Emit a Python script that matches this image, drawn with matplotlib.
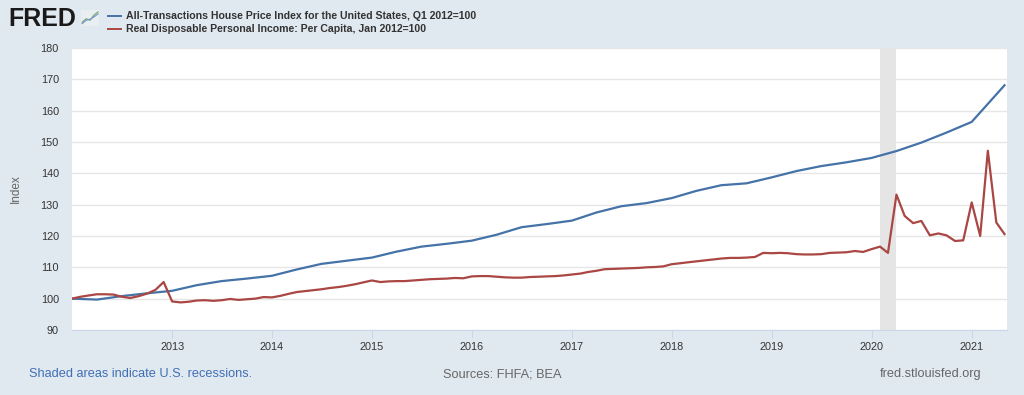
import numpy as np
import pandas as pd
import matplotlib
matplotlib.use("Agg")
import matplotlib.pyplot as plt
import matplotlib.dates as mdates

plt.rcParams['font.family'] = ['Liberation Sans', 'DejaVu Sans']

# ---- data ----
hpi_dates = list(pd.date_range("2012-01-01", "2021-01-01", freq="QS")) + [pd.Timestamp("2021-05-01")]
hpi = [100.0, 99.7, 100.8, 101.7,
       102.5, 104.3, 105.6, 106.4,
       107.3, 109.3, 111.1, 112.1,
       113.1, 115.0, 116.6, 117.5,
       118.5, 120.4, 122.8, 123.8,
       124.9, 127.5, 129.5, 130.5,
       132.1, 134.4, 136.2, 136.8,
       138.7, 140.7, 142.3, 143.5,
       144.9, 147.1, 149.8, 153.0,
       156.4, 168.1]

inc_dates = pd.date_range("2012-01-01", "2021-05-01", freq="MS")
income = [100.0, 100.6, 101.0, 101.4, 101.4, 101.3, 100.6, 100.2, 100.8, 101.6, 102.8, 105.3,
          99.1, 98.8, 99.0, 99.4, 99.5, 99.3, 99.5, 99.9, 99.6, 99.8, 100.0, 100.5,
          100.4, 100.9, 101.5, 102.1, 102.4, 102.7, 103.0, 103.4, 103.7, 104.1, 104.6, 105.2,
          105.8, 105.3, 105.5, 105.6, 105.6, 105.8, 106.0, 106.2, 106.3, 106.4, 106.6, 106.5,
          107.1, 107.2, 107.2, 107.0, 106.8, 106.7, 106.7, 106.9, 107.0, 107.1, 107.2, 107.4,
          107.7, 108.0, 108.5, 108.9, 109.4, 109.5, 109.6, 109.7, 109.8, 110.0, 110.1, 110.3,
          111.0, 111.3, 111.6, 111.9, 112.2, 112.5, 112.8, 113.0, 113.0, 113.1, 113.3, 114.6,
          114.5, 114.6, 114.5, 114.2, 114.1, 114.1, 114.2, 114.6, 114.7, 114.8, 115.2, 114.9,
          115.8, 116.6, 114.6, 133.2, 126.4, 124.1, 124.8, 120.2, 120.8, 120.2, 118.4, 118.6,
          130.7, 120.0, 147.2, 124.3, 120.6]

recession = ("2020-02-01", "2020-04-01")
year_ticks = [pd.Timestamp(f"{y}-01-01") for y in range(2013, 2022)]
y_ticks = list(range(90, 181, 10))

hpi_label = "All-Transactions House Price Index for the United States, Q1 2012=100"
inc_label = "Real Disposable Personal Income: Per Capita, Jan 2012=100"

# ---- figure ----
bg = "#e1e9f0"
fig = plt.figure(figsize=(10.24, 3.95), dpi=100, facecolor=bg)
ax = fig.add_axes([0.0703, 0.1646, 0.9131, 0.7140])
ax.set_facecolor("white")

ax.axvspan(pd.Timestamp(recession[0]), pd.Timestamp(recession[1]), color="#e5e5e5", lw=0, zorder=1)
ax.plot(hpi_dates, hpi, color="#4572a7", lw=1.6, zorder=3)
ax.plot(inc_dates, income, color="#aa4643", lw=1.6, zorder=3)

ax.set_xlim(pd.Timestamp("2012-01-01"), pd.Timestamp("2021-05-10"))
ax.set_ylim(90, 180)
ax.set_yticks(y_ticks)
ax.set_xticks(year_ticks)
ax.xaxis.set_major_formatter(mdates.DateFormatter("%Y"))
ax.grid(axis="y", color="#e6e6e6", lw=1)
ax.set_axisbelow(True)
for s in ["top", "right", "left"]:
    ax.spines[s].set_visible(False)
ax.spines["bottom"].set_color("#ccd6eb")
ax.tick_params(axis="y", length=0, labelsize=7.8, labelcolor="#333333", pad=9.5)
ax.tick_params(axis="x", length=6, color="#ccd6eb", labelsize=7.8, labelcolor="#333333", pad=3)
ax.set_ylabel("Index", fontsize=8.5, color="#666666")
ax.yaxis.set_label_coords(-0.0535, 0.5)

# ---- header ----
fig.text(0.008, 0.953, "FRED", fontsize=18, fontweight="bold", color="#1a1a1a", va="center")
logo = fig.add_axes([0.079, 0.935, 0.018, 0.04])
logo.set_facecolor("#e9eef3")
logo.plot([0, 1, 2, 3, 4], [0.5, 1.2, 0.9, 2.0, 2.6], color="#79a86b", lw=0.8)
logo.plot([0, 1, 2, 3, 4], [0.2, 0.9, 1.1, 1.6, 2.2], color="#6d8fc2", lw=0.8)
logo.set_xlim(-0.3, 4.3)
logo.set_ylim(-0.2, 3)
logo.set_xticks([])
logo.set_yticks([])
for s in logo.spines.values():
    s.set_visible(False)

fig.lines.append(plt.Line2D([0.105, 0.118], [0.959, 0.959], transform=fig.transFigure, color="#4572a7", lw=1.4))
fig.lines.append(plt.Line2D([0.105, 0.118], [0.927, 0.927], transform=fig.transFigure, color="#aa4643", lw=1.4))
fig.text(0.123, 0.959, hpi_label, fontsize=7.6, fontweight="bold", color="#333333", va="center")
fig.text(0.123, 0.927, inc_label, fontsize=7.6, fontweight="bold", color="#333333", va="center")

# ---- footer ----
fig.text(0.0283, 0.053, "Shaded areas indicate U.S. recessions.", fontsize=9.2, color="#3f6eb5", va="center")
fig.text(0.490, 0.053, "Sources: FHFA; BEA", fontsize=9.2, color="#666666", va="center", ha="center")
fig.text(0.958, 0.053, "fred.stlouisfed.org", fontsize=9.2, color="#666666", va="center", ha="right")

fig.savefig("out.png", dpi=100, facecolor=bg)
